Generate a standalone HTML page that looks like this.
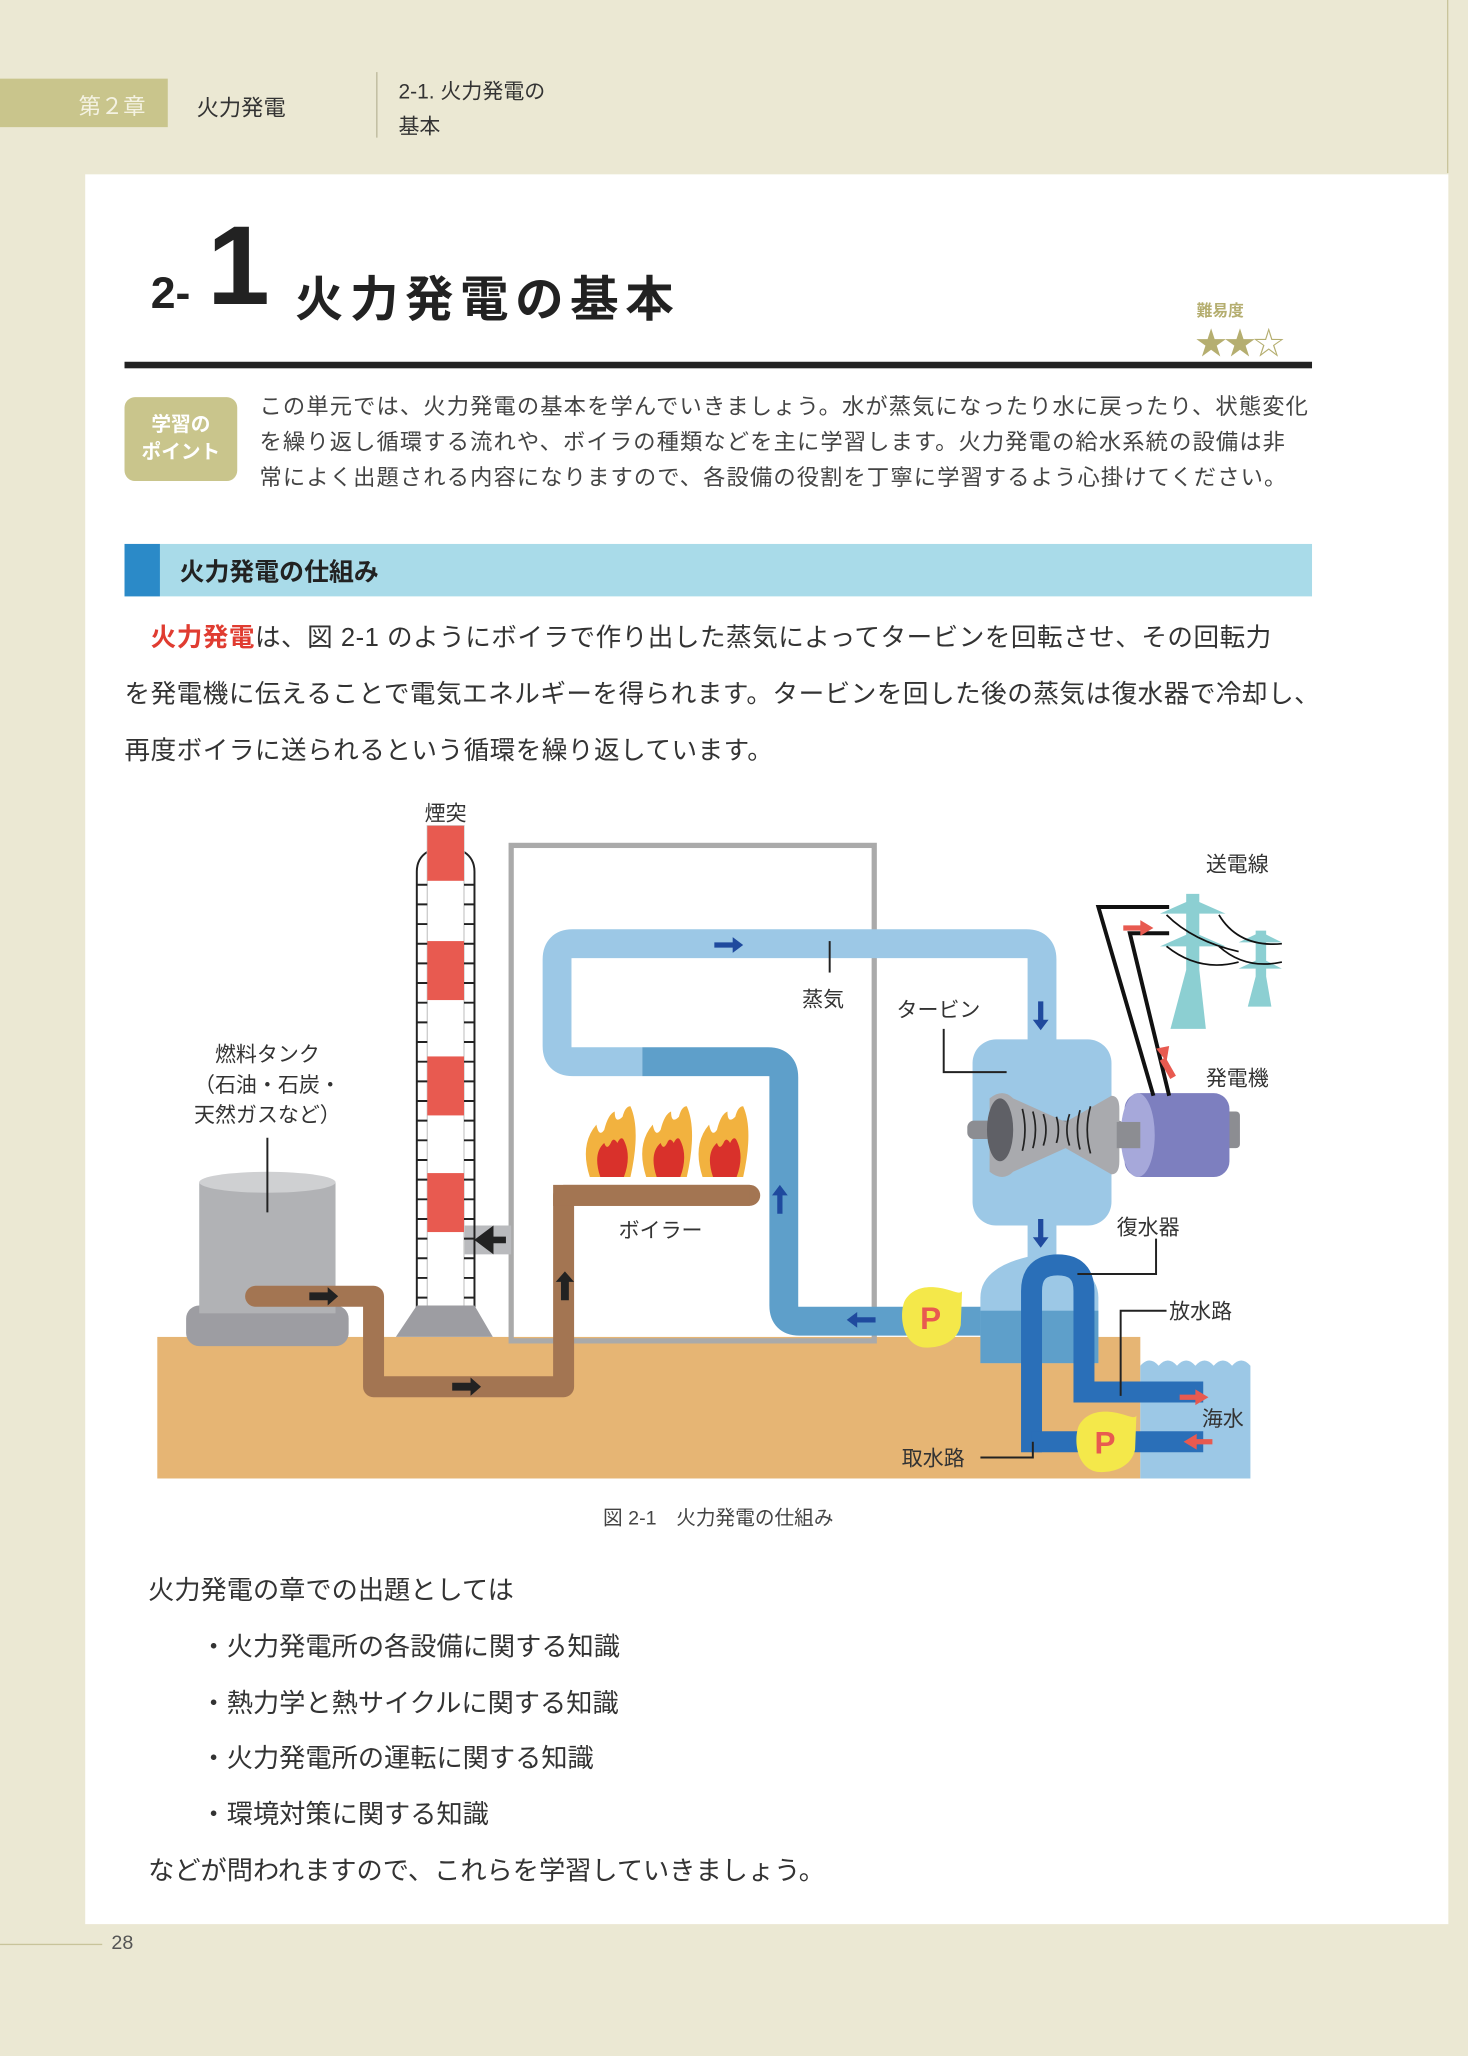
<!DOCTYPE html>
<html><head><meta charset="utf-8">
<style>
html,body{margin:0;padding:0;}
body{width:1468px;height:2056px;overflow:hidden;background:#ebe8d3;font-family:"Liberation Sans","Noto Sans CJK JP",sans-serif;}
#w{position:absolute;left:0;top:0;width:1120px;height:1568px;transform:scale(1.31071);transform-origin:0 0;}
.a{position:absolute;white-space:nowrap;color:#333;}
</style></head><body><div id="w">
<div style="position:absolute;left:1104px;top:0;width:1px;height:132px;background:#c8c49a"></div>
<div style="position:absolute;left:0;top:60px;width:128px;height:37px;background:#c9c58c"></div>
<div class="a" style="left:60px;top:67px;font-size:17px;color:#f4f2e2">第２章</div>
<div class="a" style="left:150px;top:68px;font-size:17px">火力発電</div>
<div style="position:absolute;left:287px;top:55px;width:1px;height:50px;background:#bbb79a"></div>
<div class="a" style="left:304px;top:57px;font-size:16px;line-height:27px">2-1. 火力発電の<br>基本</div>
<div style="position:absolute;left:65px;top:133px;width:1040px;height:1335px;background:#fff"></div>
<div class="a" style="left:115px;top:205px;font-size:34px;font-weight:bold;color:#222">2-</div>
<div class="a" style="left:158px;top:158px;font-size:86px;font-weight:bold;color:#222;line-height:90px">1</div>
<div class="a" style="left:225px;top:198px;font-size:37px;font-weight:bold;color:#222;letter-spacing:5px">火力発電の基本</div>
<div class="a" style="left:913px;top:228px;font-size:12px;font-weight:bold;color:#b5ae70">難易度</div>
<div class="a" style="left:912px;top:242px;font-size:24px;color:#b5ae70;letter-spacing:-2px">★★☆</div>
<div style="position:absolute;left:95px;top:276px;width:906px;height:5px;background:#222"></div>
<div style="position:absolute;left:95px;top:303px;width:86px;height:64px;background:#c9c58c;border-radius:8px"></div>
<div class="a" style="left:95px;top:314px;width:86px;text-align:center;font-size:15px;font-weight:bold;color:#fff;line-height:21px">学習の<br>ポイント</div>
<div class="a" style="left:198px;top:297px;font-size:17px;line-height:27px;color:#444;letter-spacing:0.85px">この単元では、火力発電の基本を学んでいきましょう。水が蒸気になったり水に戻ったり、状態変化<br>を繰り返し循環する流れや、ボイラの種類などを主に学習します。火力発電の給水系統の設備は非<br>常によく出題される内容になりますので、各設備の役割を丁寧に学習するよう心掛けてください。</div>
<div style="position:absolute;left:95px;top:415px;width:906px;height:40px;background:#a9dbe9"></div>
<div style="position:absolute;left:95px;top:415px;width:27px;height:40px;background:#2b8ac8"></div>
<div class="a" style="left:137px;top:422px;font-size:19px;font-weight:bold;color:#222">火力発電の仕組み</div>
<div class="a" style="left:95px;top:466px;font-size:19.5px;line-height:43px;color:#333;letter-spacing:0.4px">　<b style="color:#e03c31">火力発電</b>は、図 2-1 のようにボイラで作り出した蒸気によってタービンを回転させ、その回転力<br>を発電機に伝えることで電気エネルギーを得られます。タービンを回した後の蒸気は復水器で冷却し、<br>再度ボイラに送られるという循環を繰り返しています。</div>

<svg style="position:absolute;left:0;top:0" width="1120" height="1568" font-family="Liberation Sans,Noto Sans CJK JP,sans-serif">
<defs>
<g id="pp"><path d="M0 -23 C14 -23 22 -16 24 -20 L23 6 C20 20 5 24 -6 23 C-22 20 -24 -2 -20 -12 C-16 -20 -8 -23 0 -23z" fill="#f4e84a"/><text x="0" y="9" font-size="24" font-weight="bold" text-anchor="middle" fill="#e85a50">P</text></g>
</defs>
<rect x="120" y="1020" width="750" height="108" fill="#e6b574"/>
<path d="M870 1042 q7 -8 14 0 q7 -8 14 0 q7 -8 14 0 q7 -8 14 0 q7 -8 14 0 q7 -8 14 0 V1128 H870Z" fill="#9cc8e6"/>
<rect x="390" y="645" width="277" height="378" fill="none" stroke="#aaa" stroke-width="4"/>
<rect x="354" y="935" width="36" height="22" fill="#b9babd"/>
<path d="M386 946 h-14 M366 946 l8 -6 v12z" stroke="#222" stroke-width="5" fill="#222"/>
<path d="M318 1000 V665 q0 -10 8 -15 M362 1000 V665 q0 -10 -8 -15" stroke="#222" stroke-width="1.5" fill="none"/>
<rect x="326" y="630" width="28" height="370" fill="#fff" stroke="#ccc"/>
<g fill="#e85a50"><rect x="326" y="630" width="28" height="42"/><rect x="326" y="718" width="28" height="45"/><rect x="326" y="806" width="28" height="45"/><rect x="326" y="895" width="28" height="45"/></g>
<g stroke="#222" stroke-width="1.5">
<path d="M318 675h8M318 690h8M318 705h8M318 720h8M318 735h8M318 750h8M318 765h8M318 780h8M318 795h8M318 810h8M318 825h8M318 840h8M318 855h8M318 870h8M318 885h8M318 900h8M318 915h8M318 930h8M318 945h8M318 960h8M318 975h8M318 990h8"/>
<path d="M354 675h8M354 690h8M354 705h8M354 720h8M354 735h8M354 750h8M354 765h8M354 780h8M354 795h8M354 810h8M354 825h8M354 840h8M354 855h8M354 870h8M354 885h8M354 900h8M354 915h8M354 930h8M354 945h8M354 960h8M354 975h8M354 990h8"/>
</g>
<path d="M318 996 H362 L376 1020 H302Z" fill="#9d9da2"/>
<text x="340" y="626" font-size="16" text-anchor="middle" fill="#333">煙突</text>
<rect x="142" y="996" width="124" height="31" rx="10" fill="#9d9da2"/>
<rect x="152" y="902" width="104" height="100" fill="#b1b2b5"/>
<ellipse cx="204" cy="902" rx="52" ry="8" fill="#cfd0d2"/>
<line x1="204" y1="868" x2="204" y2="925" stroke="#222" stroke-width="1.5"/>
<text x="204" y="810" font-size="16" text-anchor="middle" fill="#333">燃料タンク</text>
<text x="204" y="833" font-size="16" text-anchor="middle" fill="#333">（石油・石炭・</text>
<text x="204" y="856" font-size="16" text-anchor="middle" fill="#333">天然ガスなど）</text>
<path d="M195 989 H285 V1058 H430 V912 H572" fill="none" stroke="#a37552" stroke-width="16" stroke-linejoin="round" stroke-linecap="round"/>
<path d="M422 904 H572 V920 H422Z" fill="#a37552"/>
<g fill="#222"><path d="M236 986h14v-4l8 7-8 7v-4h-14z"/><path d="M345 1055h14v-4l8 7-8 7v-4h-14z"/><path d="M428 992v-14h-4l7-8 7 8h-4v14z"/></g>
<g id="fl"><path d="M450 898 q-8 -25 5 -40 q2 10 6 4 q3 -12 8 -14 q0 10 6 4 q2 -8 6 -8 q8 18 0 54z" fill="#f2b23f"/><path d="M458 898 q-6 -18 3 -26 q2 6 5 0 q2 -5 5 0 q3 -6 5 -2 q6 12 0 28z" fill="#d9312b"/></g>
<use href="#fl" x="43"/><use href="#fl" x="86"/>
<text x="472" y="944" font-size="16" fill="#333">ボイラー</text>
<path d="M490 810 H437 q-12 0 -12 -12 V732 q0 -12 12 -12 H783 q12 0 12 12 V800" fill="none" stroke="#9cc8e6" stroke-width="22"/>
<path d="M490 810 H586 q12 0 12 12 V996 q0 12 12 12 H750" fill="none" stroke="#5e9fca" stroke-width="22"/>
<line x1="633" y1="718" x2="633" y2="742" stroke="#222" stroke-width="1.5"/>
<text x="628" y="768" font-size="16" text-anchor="middle" fill="#333">蒸気</text>
<rect x="784" y="930" width="22" height="35" fill="#9cc8e6"/>
<rect x="742" y="793" width="106" height="142" rx="18" fill="#9cc8e6"/>
<path d="M748 1040 V990 q0 -25 45 -33 q45 8 45 33 V1040Z" fill="#9cc8e6"/>
<rect x="748" y="1000" width="90" height="40" fill="#5e9fca"/>
<g fill="#1f4a9e"><path d="M545 719h14v-4l8 6-8 6v-4h-14z"/><path d="M593 926v-14h-4l6 -8 6 8h-4v14z"/><path d="M668 1005h-14v-4l-8 6 8 6v-4h14z"/><path d="M792 764v14h-4l6 8 6 -8h-4v-14z"/><path d="M792 930v14h-4l6 8 6 -8h-4v-14z"/></g>
<rect x="738" y="855" width="120" height="14" rx="5" fill="#8c8d92"/>
<path d="M755 838 q10 -8 18 0 l40 18 l35 -20 q6 0 6 10 v40 q0 10 -6 10 l-35 -20 l-40 18 q-8 8 -18 0z" fill="#a9aaae"/>
<ellipse cx="763" cy="862" rx="10" ry="24" fill="#5f6066"/>
<g stroke="#222" stroke-width="1.3" fill="none"><path d="M780 846 q4 16 0 32M788 848 q4 14 0 28M796 850 q4 12 0 24M806 852 q3 10 0 20M816 850 q-4 12 0 24M824 847 q-4 15 0 30M832 844 q-5 18 0 36"/></g>
<path d="M720 785 V818 H768" fill="none" stroke="#222" stroke-width="1.5"/>
<text x="684" y="776" font-size="16" fill="#333">タービン</text>
<rect x="932" y="848" width="14" height="28" rx="3" fill="#8c8d92"/>
<rect x="858" y="834" width="80" height="64" rx="12" fill="#7d7fbf"/>
<ellipse cx="868" cy="866" rx="13" ry="32" fill="#a6a8da"/>
<rect x="852" y="856" width="18" height="20" fill="#8c8d92"/>
<path d="M880 836 L838 692 H892 M892 836 L862 712 H892" fill="none" stroke="#111" stroke-width="3"/>
<path d="M895 822 l-8 -14" stroke="#e85a50" stroke-width="5"/><path d="M882 800 l10 -2 l-2 12z" fill="#e85a50"/>
<path d="M857 708h15" stroke="#e85a50" stroke-width="4"/><path d="M870 702l10 6-10 6z" fill="#e85a50"/>
<text x="920" y="828" font-size="16" fill="#333">発電機</text>
<g fill="#8ccfd2"><path d="M905 682 h10 V740 L920 785 H893 L905 740z"/><path d="M958 710 h8 V745 L970 768 H952 L958 745z"/><path d="M885 697 L910 686 L935 697Z M885 722 L910 711 L935 722Z M945 719 L962 711 L978 719Z M945 739 L962 731 L978 739Z"/></g>
<g stroke="#111" stroke-width="1.3" fill="none"><path d="M890 698 q20 20 55 28 M930 698 q15 25 48 22 M890 722 q25 20 55 12 M930 722 q20 18 48 12"/></g>
<text x="944" y="665" font-size="16" text-anchor="middle" fill="#333">送電線</text>
<path d="M787 1108 V985 q0 -20 20 -20 q20 0 20 20 V1062 H918" fill="none" stroke="#2a6fb8" stroke-width="16"/>
<path d="M787 1100 H918" fill="none" stroke="#2a6fb8" stroke-width="16"/>
<path d="M900 1064h12v-4l10 6-10 6v-4h-12z" fill="#e85a50"/>
<path d="M925 1098h-12v-4l-10 6 10 6v-4h12z" fill="#e85a50"/>
<use href="#pp" x="710" y="1005"/><use href="#pp" x="843" y="1100"/>
<path d="M822 972 H882 V945" fill="none" stroke="#222" stroke-width="1.5"/>
<text x="852" y="942" font-size="16" fill="#333">復水器</text>
<path d="M855 1065 V1000 H890" fill="none" stroke="#222" stroke-width="1.5"/>
<text x="892" y="1006" font-size="16" fill="#333">放水路</text>
<text x="917" y="1088" font-size="16" fill="#333">海水</text>
<path d="M748 1112 H788 V1100" fill="none" stroke="#222" stroke-width="1.5"/>
<text x="688" y="1118" font-size="16" fill="#333">取水路</text>
<text x="548" y="1163" font-size="15" text-anchor="middle" fill="#444">図 2-1　火力発電の仕組み</text>
</svg>

<div class="a" style="left:113px;top:1193px;font-size:20px;line-height:42.8px;color:#333">火力発電の章での出題としては<br>　　・火力発電所の各設備に関する知識<br>　　・熱力学と熱サイクルに関する知識<br>　　・火力発電所の運転に関する知識<br>　　・環境対策に関する知識<br>などが問われますので、これらを学習していきましょう。</div>
<div style="position:absolute;left:0;top:1483px;width:78px;height:1px;background:#c8c49a"></div>
<div class="a" style="left:85px;top:1474px;font-size:15px;color:#555">28</div>
</div></body></html>
